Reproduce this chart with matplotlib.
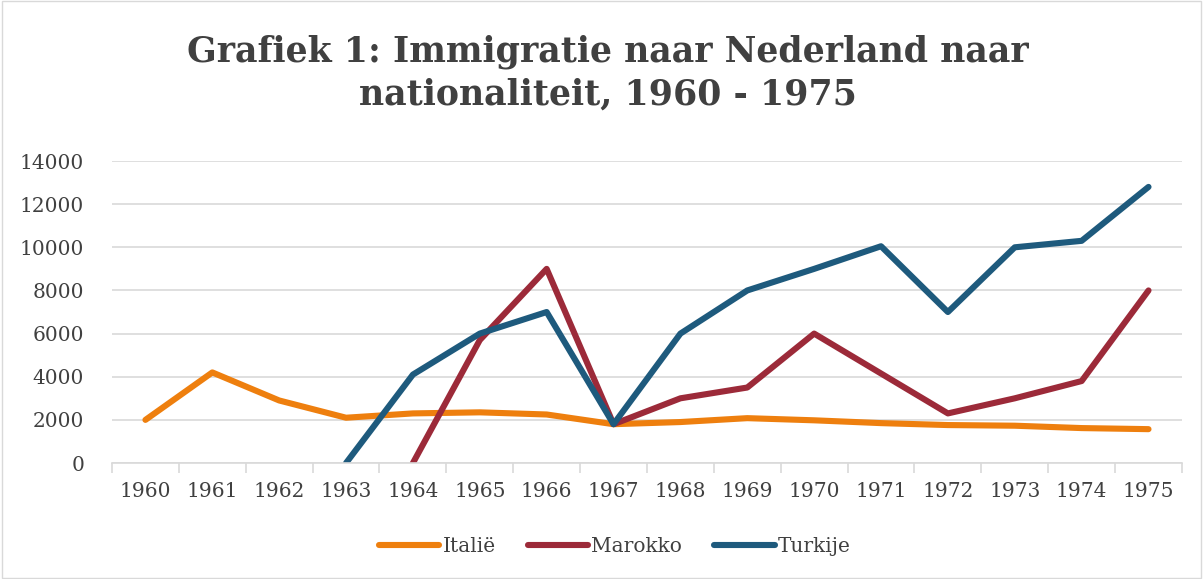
import numpy as np
import matplotlib.pyplot as plt
from matplotlib.patches import Rectangle

jaren = [str(j) for j in range(1960, 1976)]
italie = [2000, 4200, 2900, 2100, 2300, 2350, 2250, 1800, 1900, 2080, 1980, 1850, 1760, 1730, 1620, 1570]
marokko = [None, None, None, None, 0, 5700, 9000, 1800, 3000, 3500, 6000, 4150, 2300, 3000, 3800, 8000]
turkije = [None, None, None, 0, 4100, 6000, 7000, 1800, 6000, 8000, 9000, 10050, 7000, 10000, 10300, 12800]

plt.rcParams['font.family'] = ['DejaVu Serif']

fig = plt.figure(figsize=(12.03, 5.79), dpi=100)
ax = fig.add_axes([0.0931, 0.2003, 0.8894, 0.5216])

x = np.arange(len(jaren))
series = [('Italië', italie, '#EE7F0E'), ('Marokko', marokko, '#9C2A39'), ('Turkije', turkije, '#1E5A7D')]
for naam, vals, kleur in series:
    y = np.array([np.nan if v is None else v for v in vals], dtype=float)
    ax.plot(x, y, color=kleur, lw=4.4, label=naam, solid_capstyle='round', solid_joinstyle='round')

ax.set_xlim(-0.5, len(jaren) - 0.5)
ax.set_ylim(0, 14000)
ax.set_yticks(range(0, 14001, 2000))
ax.set_xticks(x)
ax.set_xticklabels(jaren)
ax.set_xticks(np.arange(-0.5, len(jaren)), minor=True)
ax.tick_params(axis='x', which='major', length=0, pad=14, labelsize=14.5, labelcolor='#404040')
ax.tick_params(axis='x', which='minor', length=7, color='#D9D9D9', width=1.2)
ax.tick_params(axis='y', length=0, pad=20, labelsize=14.5, labelcolor='#404040')

ax.grid(axis='y', color='#D9D9D9', lw=1.2)
ax.set_axisbelow(True)
for s in ['top', 'right', 'left']:
    ax.spines[s].set_visible(False)
ax.spines['bottom'].set_color('#D9D9D9')
ax.spines['bottom'].set_linewidth(1.2)

fig.suptitle('Grafiek 1: Immigratie naar Nederland naar\nnationaliteit, 1960 - 1975',
             x=0.505, y=0.94, fontsize=25, fontweight='bold', color='#404040', linespacing=1.3)

ax.legend(loc='center', bbox_to_anchor=(0.47, -0.275), ncol=3, frameon=False,
          fontsize=14.5, handlelength=3.0, handletextpad=0.15, columnspacing=1.6,
          labelcolor='#404040')

fig.patches.append(Rectangle((0.002, 0.002), 0.996, 0.996, transform=fig.transFigure,
                             fill=False, edgecolor='#D9D9D9', lw=1))

fig.savefig('out.png', dpi=100)
